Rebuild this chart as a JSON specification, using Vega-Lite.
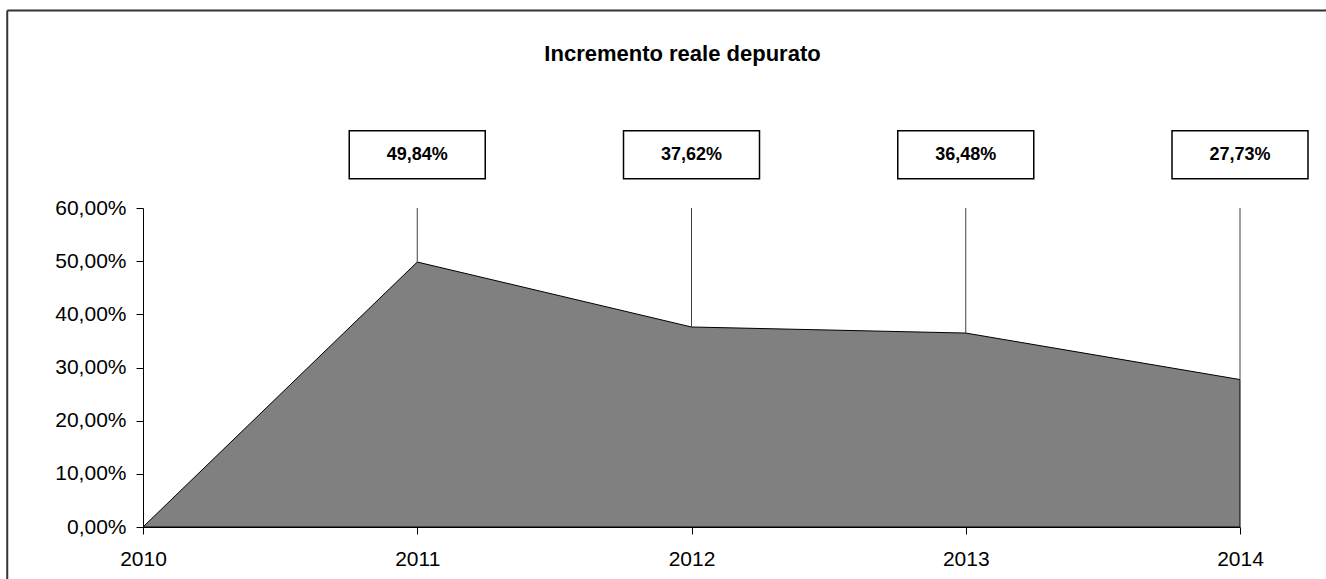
{
  "$schema": "https://vega.github.io/schema/vega-lite/v6.json",
  "autosize": "none",
  "width": 1097,
  "height": 319,
  "padding": {"left": 143, "top": 208, "right": 86, "bottom": 52},
  "background": "white",
  "config": {
    "view": {"stroke": null},
    "font": "Liberation Sans",
    "locale": {"number": {"decimal": ",", "thousands": ".", "grouping": [3], "currency": ["€", ""]}}
  },
  "data": {
    "values": [
      {"year": 2010, "value": 0},
      {"year": 2011, "value": 0.4984},
      {"year": 2012, "value": 0.3762},
      {"year": 2013, "value": 0.3648},
      {"year": 2014, "value": 0.2773}
    ]
  },
  "layer": [
    {
      "mark": {"type": "area", "fill": "#808080", "stroke": "black", "strokeWidth": 1, "interpolate": "linear"},
      "encoding": {
        "x": {
          "field": "year",
          "type": "quantitative",
          "scale": {"domain": [2010, 2014], "nice": false, "zero": false},
          "axis": {
            "values": [2010, 2011, 2012, 2013, 2014],
            "format": "d",
            "title": null,
            "grid": false,
            "labelFlush": false,
            "domainColor": "black",
            "tickColor": "black",
            "tickSize": 7,
            "labelFontSize": 21,
            "labelColor": "black",
            "labelPadding": 14,
            "labelFont": "Liberation Sans"
          }
        },
        "y": {
          "field": "value",
          "type": "quantitative",
          "scale": {"domain": [0, 0.6], "nice": false},
          "axis": {
            "values": [0, 0.1, 0.2, 0.3, 0.4, 0.5, 0.6],
            "format": ".2%",
            "title": null,
            "grid": false,
            "labelFlush": false,
            "domainColor": "black",
            "tickColor": "black",
            "tickSize": 7,
            "labelFontSize": 21,
            "labelColor": "black",
            "labelPadding": 10,
            "labelFont": "Liberation Sans"
          }
        }
      }
    },
    {
      "data": {"values": [{"edge": "top"}]},
      "mark": {"type": "rule", "color": "#333333", "strokeWidth": 2, "clip": false},
      "encoding": {
        "x": {"datum": 2009.505, "type": "quantitative"},
        "x2": {"datum": 2016},
        "y": {"datum": 0.9714, "type": "quantitative"}
      }
    },
    {
      "data": {"values": [{"edge": "left"}]},
      "mark": {"type": "rule", "color": "#333333", "strokeWidth": 2, "clip": false},
      "encoding": {
        "x": {"datum": 2009.505, "type": "quantitative"},
        "y": {"datum": 0.9714, "type": "quantitative"},
        "y2": {"datum": -0.3}
      }
    },
    {
      "data": {"values": [{"title": "Incremento reale depurato"}]},
      "mark": {"type": "text", "font": "Liberation Sans", "fontSize": 22, "fontWeight": "bold", "color": "black", "baseline": "alphabetic", "align": "center", "dx": -9, "clip": false},
      "encoding": {
        "x": {"datum": 2012, "type": "quantitative"},
        "y": {"datum": 0.8765, "type": "quantitative"},
        "text": {"field": "title", "type": "nominal"}
      }
    },
    {
      "transform": [{"filter": "datum.year > 2010"}],
      "mark": {"type": "rule", "color": "#404040", "strokeWidth": 1, "clip": false},
      "encoding": {
        "x": {"field": "year", "type": "quantitative"},
        "y": {"field": "value", "type": "quantitative"},
        "y2": {"datum": 0.6}
      }
    },
    {
      "transform": [{"filter": "datum.year > 2010"}],
      "mark": {"type": "rect", "fill": "white", "stroke": "black", "strokeWidth": 1.5, "width": 136, "height": 48, "clip": false},
      "encoding": {
        "x": {"field": "year", "type": "quantitative"},
        "y": {"datum": 0.7, "type": "quantitative"}
      }
    },
    {
      "transform": [{"filter": "datum.year > 2010"}],
      "mark": {"type": "text", "font": "Liberation Sans", "fontSize": 18, "fontWeight": "bold", "color": "black", "baseline": "middle", "align": "center", "clip": false},
      "encoding": {
        "x": {"field": "year", "type": "quantitative"},
        "y": {"datum": 0.7, "type": "quantitative"},
        "text": {"field": "value", "type": "quantitative", "format": ".2%"}
      }
    }
  ]
}
